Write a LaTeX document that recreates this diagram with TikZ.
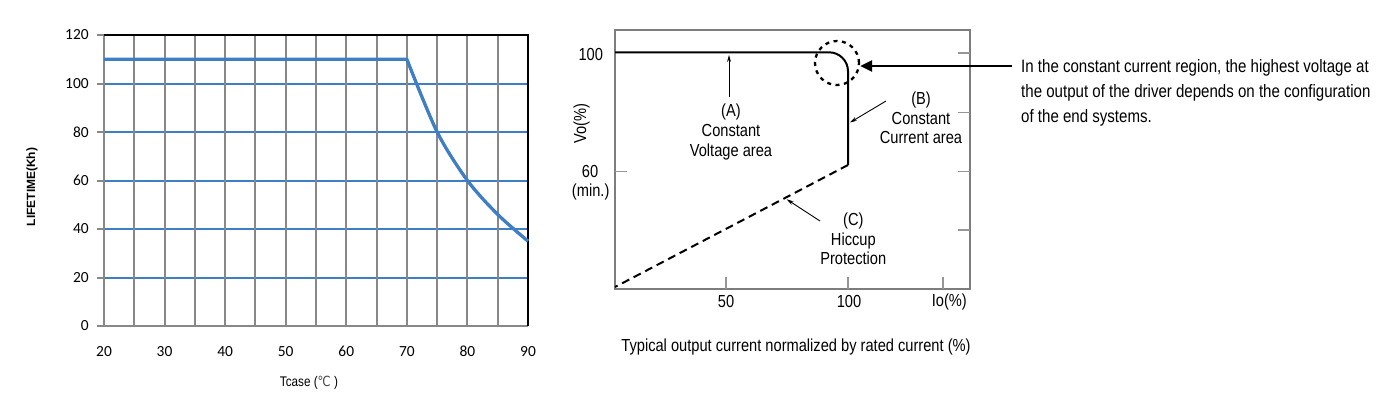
\documentclass[tikz,border=0pt]{standalone}
\usepackage{fontspec}
\setmainfont{Liberation Sans}
\newfontfamily\calfont{Carlito}
\newfontfamily\narrowfont[FakeStretch=0.84]{Liberation Sans}
\newfontfamily\symbfont[FakeStretch=0.84]{DejaVu Sans}
\usetikzlibrary{arrows.meta}
\definecolor{curveblue}{RGB}{62,126,196}
\definecolor{gridgray}{RGB}{136,136,136}
\definecolor{boxgray}{RGB}{125,125,125}
\definecolor{tickgray}{RGB}{150,150,150}
\begin{document}
\begin{tikzpicture}[x=1bp,y=-1bp,
  vgrid/.style={gridgray,line width=2bp},
  hgrid/.style={curveblue,line width=2bp},
  frameblack/.style={black,line width=1.1bp},
  lifecurve/.style={curveblue,line width=3.3bp,line join=round},
  ticklab/.style={font=\calfont\fontsize{15.5}{18}\selectfont,inner sep=0pt},
  lab/.style={font=\narrowfont\fontsize{17.5}{20}\selectfont,inner sep=0pt,align=center},
  notetext/.style={font=\narrowfont\fontsize{18}{24.7}\selectfont,inner sep=0pt,anchor=base west},
  pointer/.style={line width=0.9bp,-{Stealth[length=7bp,width=4bp]}},
  chartbox/.style={boxgray,line width=1.3bp},
  charttick/.style={tickgray,line width=1.2bp},
  vcurve/.style={black,line width=2bp},
  bigarrow/.style={black,line width=2.6bp,-{Triangle[length=12bp,width=11bp]}},
  ring/.style={circle,draw=black,line width=2.3bp,dash pattern=on 4bp off 4.5bp,minimum size=44bp,inner sep=0pt}
]
\useasboundingbox (0,0) rectangle (1400,414);
\fill[white] (0,0) rectangle (1400,414);

% ---------------- left chart ----------------
\begin{scope}[shift={(-17.14bp,-326bp)},x=6.057bp,y=2.425bp]
  \foreach \L in {20,40,...,100} \draw[hgrid] (20,\L) -- (90,\L);
  \foreach \t in {25,30,...,85} \draw[vgrid] (\t,0) -- (\t,120);
  \draw[vgrid] (20,0) -- (20,120);
  \draw[vgrid] (18.84,0) -- (90,0);
  \foreach \L in {20,40,...,120} \draw[vgrid] (18.84,\L) -- (20,\L);
  \draw[frameblack] (20,120) -- (90,120) -- (90,0);
  \draw[lifecurve] (20,110) -- plot[smooth,tension=0.5] coordinates {(70,110) (75,80) (80,60) (85,46) (90,35)};
  \foreach \L in {0,20,...,120} \node[ticklab,anchor=east] (yl\L) at (17.5,\L) {\L};
  \foreach \t in {20,30,...,90} \node[ticklab,yshift=-25.7bp] (xl\t) at (\t,0) {\t};
\end{scope}
\node[font=\narrowfont\fontsize{14}{16}\selectfont,inner sep=0pt] (tcase) at (309,382.7) {Tcase ({\symbfont\color{black!70}℃} )};
\node[rotate=90,font=\bfseries\fontsize{12}{14}\selectfont,inner sep=0pt] (lifelab) at (32,187) {LIFETIME(Kh)};

% ---------------- right chart ----------------
\draw[chartbox] (615,30) rectangle (970,289);
\draw[charttick] (615,171.7) -- (627,171.7);
\foreach \y in {53,112.7,171.7,230} \draw[charttick] (958,\y) -- (970,\y);
\foreach \x in {726,848,943} \draw[charttick] (\x,289) -- (\x,277);

\draw[vcurve,rounded corners=19bp] (615,52.3) -- (848,52.3) -- (848,165);
\draw[vcurve,dash pattern=on 8bp off 5bp] (848,165) -- (615,287);

\node[ring] (ringA) at (837,63) {};
\coordinate (notestart) at (1012,66);
\draw[bigarrow] (notestart) -- (ringA.east |- notestart);

\node[lab] (v100) at (590.8,54.3) {100};
\node[lab] (v60) at (590,171.7) {60};
\node[lab] (vmin) at (590.7,192.3) {(min.)};
\node[lab,rotate=90] (volab) at (581.7,123.3) {Vo(\%)};
\node[lab] (i50) at (726,301.7) {50};
\node[lab] (i100) at (849,301.3) {100};
\node[lab] (iolab) at (949.3,302) {Io(\%)};
\node[lab] (xcap) at (796,346.7) {Typical output current normalized by rated current (\%)};

\node[lab] (labA) at (731,132.2) {(A)\\Constant\\Voltage area};
\node[lab] (labB) at (921,117.8) {(B)\\Constant\\Current area};
\node[lab] (labC) at (853.3,238.8) {(C)\\Hiccup\\Protection};

\coordinate (pA0) at (729,96.7);
\coordinate (pA1) at (729,55);
\coordinate (pB0) at (886,101);
\coordinate (pB1) at (850,122.5);
\coordinate (pC0) at (820,221);
\coordinate (pC1) at (786.7,199.3);
\draw[pointer] (pA0) -- (pA1);
\draw[pointer] (pB0) -- (pB1);
\draw[pointer] (pC0) -- (pC1);

\node[notetext] (note1) at (1021,72.7) {In the constant current region, the highest voltage at};
\node[notetext] (note2) at (1021,97.5) {the output of the driver depends on the configuration};
\node[notetext] (note3) at (1021,122.2) {of the end systems.};
\end{tikzpicture}
\end{document}
